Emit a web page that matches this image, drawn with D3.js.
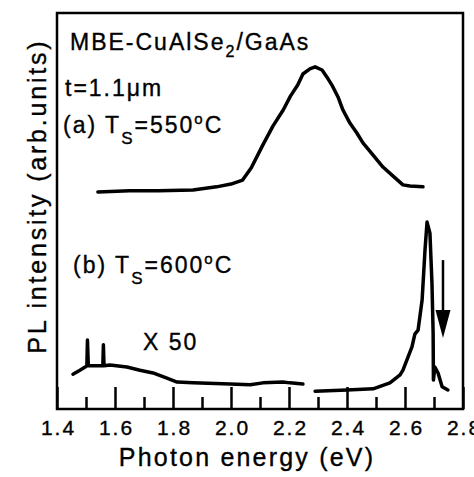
<!DOCTYPE html>
<html>
<head>
<meta charset="utf-8">
<script src="https://cdn.jsdelivr.net/npm/d3@7"></script>
<style>
  body { margin: 0; background: #fff; }
  svg text { font-family: "Liberation Sans", Arial, Helvetica, sans-serif; fill: #000; stroke: #000; stroke-width: 0.35px; }
</style>
</head>
<body>
<div id="chart"></div>
<script>
// (a) Ts = 550C
const energyA = [1.541, 1.65, 1.75, 1.869, 1.95, 2.00, 2.04, 2.07, 2.11, 2.145, 2.18, 2.205, 2.23, 2.248, 2.272, 2.29, 2.314, 2.331, 2.348, 2.369, 2.386, 2.41, 2.434, 2.455, 2.49, 2.524, 2.559, 2.593, 2.617, 2.662];
const intensityA = [54.8, 55.1, 55.1, 55.3, 56.1, 56.8, 57.8, 60.9, 66.7, 71.5, 75.5, 79.0, 81.8, 84.6, 85.9, 86.4, 85.6, 83.8, 81.8, 78.8, 75.5, 72.2, 69.7, 67.2, 64.1, 61.1, 58.8, 56.6, 56.3, 56.1];

// (b) Ts = 600C, low-energy part (x 50)
const energyB1 = [1.455, 1.479, 1.497, 1.503, 1.505, 1.508, 1.514, 1.558, 1.560, 1.562, 1.583, 1.641, 1.686, 1.731, 1.779, 1.814, 1.869, 1.997, 2.066, 2.110, 2.179, 2.203, 2.248];
const intensityB1 = [8.8, 9.8, 10.6, 10.9, 17.4, 10.9, 10.9, 10.9, 16.2, 10.9, 11.1, 10.6, 9.8, 9.1, 7.8, 6.8, 6.6, 6.3, 6.1, 6.6, 6.8, 6.6, 6.3];

// (b) Ts = 600C, band-edge part
const energyB2 = [2.290, 2.400, 2.490, 2.548, 2.583, 2.593, 2.624, 2.634, 2.645, 2.659, 2.669, 2.676, 2.686, 2.693, 2.697, 2.698, 2.703, 2.714, 2.728, 2.748];
const intensityB2 = [4.5, 4.8, 5.1, 6.6, 8.6, 9.8, 15.7, 18.9, 19.9, 27.5, 40.2, 47.2, 44.4, 31.8, 19.2, 7.3, 10.6, 9.1, 5.6, 4.8];

// arrow marker: energy, tail, head base, tip
const arrowEnergy = 2.731;
const arrowLevels = [37.6, 25.0, 17.9];

const majorTicks = [1.4, 1.6, 1.8, 2.0, 2.2, 2.4, 2.6, 2.8];
const minorTicks = [1.5, 1.7, 1.9, 2.1, 2.3, 2.5, 2.7];

const W = 474, H = 477;
const MARGIN_TOP = 13, MARGIN_BOTTOM = 68, MARGIN_LEFT = 57, MARGIN_RIGHT = 11;
const width = W - MARGIN_LEFT - MARGIN_RIGHT;
const height = H - MARGIN_TOP - MARGIN_BOTTOM;

const svg = d3.select('#chart').append('svg')
  .attr('width', W).attr('height', H);

const g = svg.append('g')
  .attr('transform', `translate(${MARGIN_LEFT},${MARGIN_TOP})`);

const x = d3.scaleLinear().domain([1.4, 2.8]).range([0, width]);
const y = d3.scaleLinear().domain([0, 100]).range([height, 0]);

// axes (ticks point inward)
const xMajor = g.append('g').attr('transform', `translate(0,${height})`)
  .call(d3.axisBottom(x).tickValues(majorTicks).tickSize(-22).tickFormat(d3.format('.1f')));
const xMinor = g.append('g').attr('transform', `translate(0,${height})`)
  .call(d3.axisBottom(x).tickValues(minorTicks).tickSize(-12).tickFormat(''));

[xMajor, xMinor].forEach(a => {
  a.select('.domain').remove();
  a.selectAll('.tick line').attr('stroke', '#000').attr('stroke-width', 2.5);
});
xMajor.selectAll('.tick text')
  .attr('y', 26).attr('dy', 0).attr('dx', 1)
  .attr('font-size', 21).attr('letter-spacing', '2px')
  .attr('font-family', null);

// frame
g.append('rect')
  .attr('x', 0).attr('y', 0).attr('width', width).attr('height', height)
  .attr('fill', 'none').attr('stroke', '#000').attr('stroke-width', 2.5);

// curves
const line = d3.line().x(d => x(d[0])).y(d => y(d[1]));
const curves = [
  d3.zip(energyA, intensityA),
  d3.zip(energyB1, intensityB1),
  d3.zip(energyB2, intensityB2)
];
g.selectAll('path.curve').data(curves).join('path')
  .attr('class', 'curve')
  .attr('d', line)
  .attr('fill', 'none').attr('stroke', '#000')
  .attr('stroke-width', 3.5).attr('stroke-linejoin', 'round').attr('stroke-linecap', 'round');

// arrow
const ax = x(arrowEnergy);
g.append('line')
  .attr('x1', ax).attr('x2', ax)
  .attr('y1', y(arrowLevels[0])).attr('y2', y(arrowLevels[1]) + 2)
  .attr('stroke', '#000').attr('stroke-width', 2.5);
g.append('path')
  .attr('d', `M${ax - 7.5},${y(arrowLevels[1])}L${ax + 7.5},${y(arrowLevels[1])}L${ax},${y(arrowLevels[2])}Z`)
  .attr('fill', '#000');

// axis titles
svg.append('text')
  .attr('x', 247).attr('y', 466)
  .attr('text-anchor', 'middle').attr('font-size', 25).attr('letter-spacing', '2.2px')
  .text('Photon energy (eV)');
svg.append('text')
  .attr('transform', 'translate(46,196) rotate(-90)')
  .attr('text-anchor', 'middle').attr('font-size', 25).attr('letter-spacing', '2.8px')
  .text('PL intensity (arb.units)');

// annotations
const ann = svg.append('g').attr('font-size', 23).attr('letter-spacing', '2px');

const t1 = ann.append('text').attr('x', 70).attr('y', 50);
t1.append('tspan').text('MBE-CuAlSe');
t1.append('tspan').attr('font-size', 16).attr('dy', 7).text('2');
t1.append('tspan').attr('dy', -7).text('/GaAs');

ann.append('text').attr('x', 65).attr('y', 96).text('t=1.1\u03bcm');

function tempLabel(px, py, tag, temp) {
  const t = ann.append('text').attr('x', px).attr('y', py);
  t.append('tspan').text(`(${tag}) T`);
  t.append('tspan').attr('font-size', 17).attr('dy', 11).text('S');
  t.append('tspan').attr('dy', -11).text(`=${temp}`);
  t.append('tspan').attr('font-size', 15).attr('dy', -9).text('o');
  t.append('tspan').attr('dy', 9).text('C');
}
tempLabel(63, 133, 'a', '550');
tempLabel(73, 273, 'b', '600');

ann.append('text').attr('x', 143).attr('y', 350).text('X 50');
</script>
</body>
</html>
